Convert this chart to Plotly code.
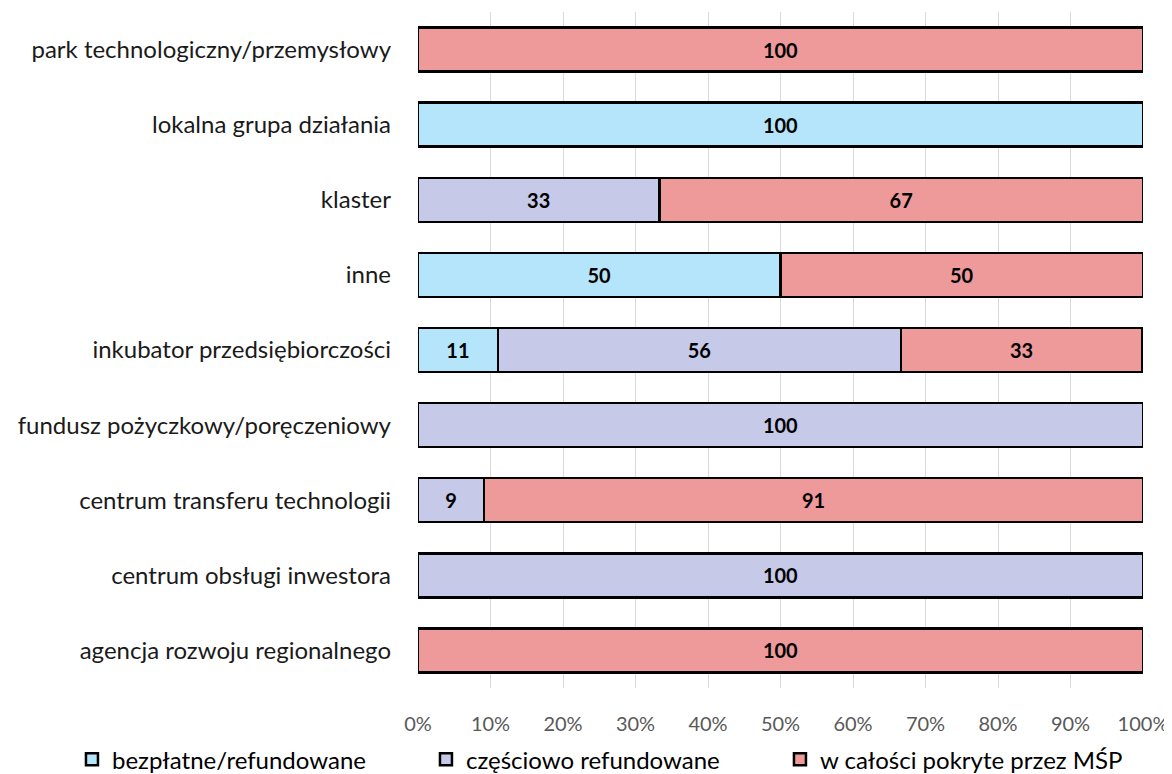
import plotly.graph_objects as go

categories = [
    "park technologiczny/przemysłowy",
    "lokalna grupa działania",
    "klaster",
    "inne",
    "inkubator przedsiębiorczości",
    "fundusz pożyczkowy/poręczeniowy",
    "centrum transferu technologii",
    "centrum obsługi inwestora",
    "agencja rozwoju regionalnego",
]

bezplatne = [None, 100, None, 50, 11, None, None, None, None]
czesciowo = [None, None, 33.3, None, 55.6, 100, 9.1, 100, None]
w_calosci = [100, None, 66.7, 50, 33.3, None, 90.9, None, 100]

labels_bezplatne = [None, "100", None, "50", "11", None, None, None, None]
labels_czesciowo = [None, None, "33", None, "56", "100", "9", "100", None]
labels_w_calosci = ["100", None, "67", "50", "33", None, "91", None, "100"]

series_names = ["bezpłatne/refundowane", "częściowo refundowane", "w całości pokryte przez MŚP"]
colors = ["#B4E5FA", "#C6C9E8", "#EE9A9B"]

FONT = "Lato"

fig = go.Figure()
for name, vals, labels, color in zip(series_names,
                                     [bezplatne, czesciowo, w_calosci],
                                     [labels_bezplatne, labels_czesciowo, labels_w_calosci],
                                     colors):
    fig.add_trace(go.Bar(
        y=categories, x=vals, name=name, orientation="h",
        marker=dict(color=color, line=dict(color="black", width=2.5)),
        text=labels, textposition="inside", insidetextanchor="middle",
        textfont=dict(family=FONT, size=20, color="black", weight="bold"),
        textangle=0,
    ))

# page body adds an 8px margin, so the figure is 8px smaller than the window
fig.update_layout(
    width=1164, height=766,
    barmode="stack", bargap=0.414,
    plot_bgcolor="white", paper_bgcolor="white",
    margin=dict(l=410, r=29, t=4, b=86, autoexpand=False),
    font=dict(family=FONT),
    legend=dict(
        orientation="h",
        x=-0.4773, xanchor="left",
        y=-0.106, yanchor="middle",
        font=dict(family=FONT, size=24, color="black"),
        entrywidth=309, entrywidthmode="pixels",
        traceorder="normal", bgcolor="rgba(0,0,0,0)",
    ),
)
fig.update_xaxes(
    range=[0, 100], dtick=10, ticksuffix="%",
    showgrid=True, gridcolor="#D9D9D9", gridwidth=1,
    zeroline=False, showline=False, automargin=False,
    tickfont=dict(family=FONT, size=20, color="#595959"),
    ticklabelstandoff=22,
)
fig.update_yaxes(
    autorange="reversed", showgrid=False, showline=False, automargin=False,
    tickfont=dict(family=FONT, size=24, color="#1A1A1A"),
    ticklabelstandoff=26,
)

fig.write_html("out.html")
